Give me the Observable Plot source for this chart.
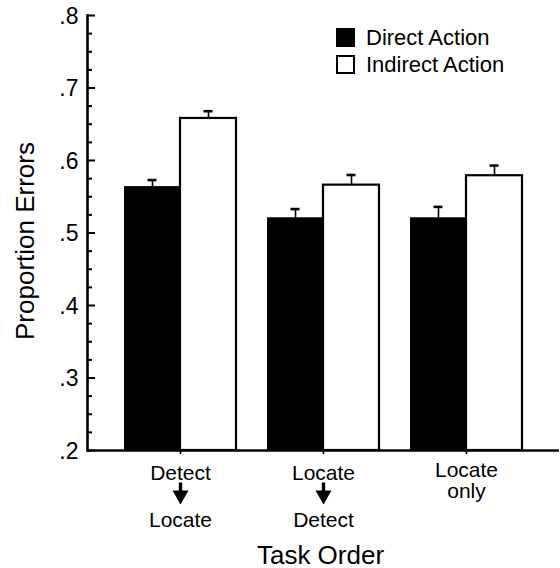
<!DOCTYPE html>
<html><head><meta charset="utf-8">
<script src="https://cdn.jsdelivr.net/npm/d3@7"></script>
<script src="https://cdn.jsdelivr.net/npm/@observablehq/plot@0.6"></script>
<style>
body{margin:0;background:#fff;font-family:"Liberation Sans",Arial,Helvetica,sans-serif}
#chart{position:relative;width:560px;height:568px}
#chart svg{display:block}
.legend{position:absolute;left:336px;top:24px;font-size:22px;color:#000}
.legend .row{display:flex;align-items:center;height:27px}
.legend .sw{width:19px;height:19px;box-sizing:border-box;margin-right:11px;border:2px solid #000}
</style></head><body>
<div id="chart"></div>
<script>
// ---- data ----
const groups = ["Detect → Locate", "Locate → Detect", "Locate only"];
const groupTop = ["Detect", "Locate", "Locate"];
const groupBottom = ["Locate", "Detect", "only"];
const groupArrow = [true, true, false];
const series = ["Direct Action", "Indirect Action"];
const seriesFill = ["black", "white"];
const directValues = [0.564, 0.521, 0.521];
const directErrors = [0.009, 0.012, 0.015];
const indirectValues = [0.658, 0.566, 0.579];
const indirectErrors = [0.010, 0.014, 0.014];
const yMajorTicks = [0.2, 0.3, 0.4, 0.5, 0.6, 0.7, 0.8];
const yMinorTicks = [0.225, 0.25, 0.275, 0.325, 0.35, 0.375, 0.425, 0.45, 0.475,
  0.525, 0.55, 0.575, 0.625, 0.65, 0.675, 0.725, 0.75, 0.775];
const yLabel = "Proportion Errors";
const xLabel = "Task Order";

const directRows = groups.map((g, i) => ({group: g, value: directValues[i], err: directErrors[i]}));
const indirectRows = groups.map((g, i) => ({group: g, value: indirectValues[i], err: indirectErrors[i]}));
const labelRows = groups.map((g, i) => ({group: g, top: groupTop[i], bottom: groupBottom[i], arrow: groupArrow[i]}));

const common = {
  width: 560, height: 568,
  marginLeft: 87, marginRight: 1, marginTop: 15, marginBottom: 118,
  style: {fontFamily: "'Liberation Sans', Arial, Helvetica, sans-serif", color: "black", background: "white"},
  x: {domain: groups, paddingInner: 0.22, paddingOuter: 0.25, axis: null},
  y: {domain: [0.2, 0.8], axis: null}
};

// probe the band scale to split each band between the two series
const probe = Plot.plot({...common, marks: [Plot.barY(directRows, {x: "group", y: "value"})]});
const bw = probe.scale("x").bandwidth;

const fmt = d => d3.format(".1f")(d).replace(/^0/, "");
const arrowShape = {
  draw(context, l) {
    context.moveTo(-1.7, 0);
    context.lineTo(1.7, 0);
    context.lineTo(1.7, -8);
    context.lineTo(8, -8);
    context.lineTo(0, -l);
    context.lineTo(-8, -8);
    context.lineTo(-1.7, -8);
    context.closePath();
  }
};

const plot = Plot.plot({
  ...common,
  marks: [
    Plot.barY(directRows, {x: "group", y1: 0.2, y2: "value", fill: seriesFill[0], insetRight: bw / 2}),
    Plot.barY(indirectRows, {x: "group", y1: 0.2, y2: "value", fill: seriesFill[1], stroke: "black", strokeWidth: 2.2, insetLeft: bw / 2}),
    Plot.ruleX(directRows, {x: "group", y1: "value", y2: d => d.value + d.err, dx: -bw / 4, strokeWidth: 1.6}),
    Plot.tickY(directRows, {x: "group", y: d => d.value + d.err, insetLeft: bw / 4 - 4.5, insetRight: 3 * bw / 4 - 4.5, strokeWidth: 2.6}),
    Plot.ruleX(indirectRows, {x: "group", y1: "value", y2: d => d.value + d.err, dx: bw / 4, strokeWidth: 1.6}),
    Plot.tickY(indirectRows, {x: "group", y: d => d.value + d.err, insetLeft: 3 * bw / 4 - 4.5, insetRight: bw / 4 - 4.5, strokeWidth: 2.6}),
    Plot.ruleY([0.2], {strokeWidth: 2.6}),
    Plot.frame({anchor: "left", strokeWidth: 2.6}),
    Plot.axisY({ticks: yMajorTicks, tickSize: -8, tickFormat: () => "", strokeWidth: 2, label: null}),
    Plot.axisY({ticks: yMinorTicks, tickSize: -5, tickFormat: () => "", strokeWidth: 2, label: null}),
    Plot.axisY({ticks: yMajorTicks, tickSize: 0, tickPadding: 9, tickFormat: fmt, fontSize: 23, dy: 1, label: null}),
    Plot.axisX({tickSize: 4, strokeWidth: 1.6, tickFormat: () => "", label: null}),
    Plot.text(labelRows.filter(d => d.arrow), {x: "group", text: d => d.top + "\n\n" + d.bottom, frameAnchor: "bottom", lineAnchor: "top", dy: 13, lineHeight: 1.12, fontSize: 21}),
    Plot.text(labelRows.filter(d => !d.arrow), {x: "group", text: d => d.top + "\n" + d.bottom, frameAnchor: "bottom", lineAnchor: "top", dy: 12, lineHeight: 1.0, fontSize: 21}),
    Plot.vector(labelRows.filter(d => d.arrow), {x: "group", frameAnchor: "bottom", dy: 32, length: 22, rotate: 180, anchor: "start", shape: arrowShape, fill: "black", stroke: "none"}),
    Plot.text([yLabel], {text: d => d, frameAnchor: "left", textAnchor: "middle", rotate: -90, dx: -62, dy: 8, fontSize: 26}),
    Plot.text([xLabel], {text: d => d, frameAnchor: "bottom", textAnchor: "middle", lineAnchor: "bottom", dx: -3, dy: 113, fontSize: 26})
  ]
});

const chart = document.getElementById("chart");
chart.appendChild(plot);
const legend = document.createElement("div");
legend.className = "legend";
series.forEach((s, i) => {
  const row = document.createElement("div");
  row.className = "row";
  const sw = document.createElement("span");
  sw.className = "sw";
  sw.style.background = seriesFill[i];
  const t = document.createElement("span");
  t.textContent = s;
  row.appendChild(sw);
  row.appendChild(t);
  legend.appendChild(row);
});
chart.appendChild(legend);
</script>
</body></html>
